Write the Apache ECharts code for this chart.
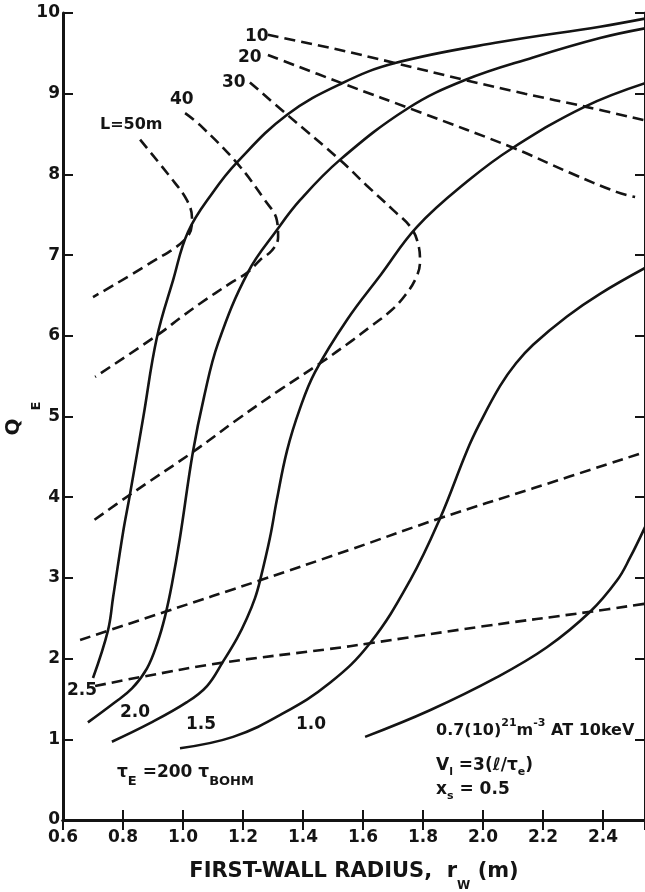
<!DOCTYPE html>
<html><head><meta charset="utf-8">
<script src="https://cdn.jsdelivr.net/npm/echarts@6/dist/echarts.min.js"></script>
<style>html,body{margin:0;padding:0;background:#fff}#c{width:645px;height:892px}</style>
</head><body><div id="c"></div>
<script>
// Tick labels
const xTickLabels = ['0.6','0.8','1.0','1.2','1.4','1.6','1.8','2.0','2.2','2.4'];
const yTickLabels = ['0','1','2','3','4','5','6','7','8','9','10'];

// Solid curves: density labels 2.5, 2.0, 1.5, 1.0, 0.7
const n25 = [[0.70,1.76],[0.75,2.35],[0.767,2.76],[0.80,3.56],[0.823,4.03],[0.868,5.0],[0.913,5.98],[0.967,6.69],[1.017,7.29],[1.10,7.78],[1.18,8.15],[1.347,8.74],[1.53,9.13],[1.707,9.38],[2.057,9.64],[2.39,9.83],[2.54,9.93]];
const n20 = [[0.683,1.21],[0.77,1.45],[0.83,1.63],[0.88,1.88],[0.915,2.2],[0.94,2.52],[0.963,2.92],[0.99,3.5],[1.033,4.56],[1.07,5.24],[1.117,5.91],[1.217,6.79],[1.313,7.31],[1.39,7.68],[1.523,8.18],[1.75,8.82],[1.94,9.17],[2.167,9.45],[2.39,9.69],[2.54,9.81]];
const n15 = [[0.763,0.97],[0.89,1.2],[1.013,1.46],[1.08,1.66],[1.133,1.96],[1.18,2.25],[1.213,2.5],[1.24,2.75],[1.257,2.97],[1.29,3.5],[1.313,3.97],[1.347,4.58],[1.39,5.1],[1.44,5.55],[1.547,6.2],[1.66,6.76],[1.78,7.35],[1.95,7.92],[2.1,8.33],[2.34,8.84],[2.54,9.13]];
const n10 = [[0.99,0.89],[1.167,1.03],[1.333,1.32],[1.49,1.7],[1.623,2.19],[1.757,2.97],[1.857,3.74],[1.947,4.58],[1.99,4.92],[2.057,5.38],[2.11,5.66],[2.167,5.89],[2.28,6.24],[2.39,6.52],[2.54,6.84]];
const n07 = [[1.607,1.03],[1.823,1.36],[2.047,1.77],[2.213,2.14],[2.357,2.58],[2.447,2.97],[2.49,3.25],[2.54,3.63]];

// Dashed curves: L = 10, 20, 30, 40, 50 m
const L10upper = [[1.283,9.73],[1.5,9.56],[1.707,9.38],[1.94,9.17],[2.14,9.0],[2.34,8.84],[2.54,8.67]];
const L10lower = [[0.707,1.66],[0.857,1.77],[1.133,1.95],[1.49,2.12],[1.623,2.19],[2.0,2.4],[2.357,2.58],[2.54,2.68]];
const L20upper = [[1.283,9.48],[1.53,9.13],[1.79,8.77],[2.1,8.33],[2.29,8.02],[2.447,7.78],[2.507,7.72]];
const L20lower = [[0.657,2.23],[0.94,2.58],[1.257,2.97],[1.557,3.35],[1.857,3.74],[2.167,4.11],[2.54,4.56]];
const L30 = [[1.223,9.14],[1.347,8.74],[1.523,8.18],[1.613,7.86],[1.70,7.56],[1.76,7.34],[1.785,7.12],[1.79,6.92],[1.777,6.72],[1.74,6.5],[1.69,6.3],[1.62,6.1],[1.567,5.95],[1.457,5.66],[1.323,5.33],[1.18,4.96],[1.033,4.56],[0.823,4.03],[0.69,3.68]];
const L40 = [[1.007,8.76],[1.057,8.61],[1.18,8.14],[1.273,7.68],[1.313,7.43],[1.317,7.22],[1.297,7.06],[1.257,6.94],[1.217,6.79],[1.157,6.65],[1.057,6.4],[0.99,6.22],[0.923,6.03],[0.707,5.49]];
const L50 = [[0.857,8.43],[0.957,7.97],[1.013,7.68],[1.03,7.46],[1.013,7.22],[0.89,6.9],[0.7,6.48]];

const solidCurves = [n25, n20, n15, n10, n07];
const dashedCurves = [L10upper, L10lower, L20upper, L20lower, L30, L40, L50];

const INK = '#141414';
const FONT = 'DejaVu Sans';

const series = [];
solidCurves.forEach(d => series.push({
  type: 'line', data: d, showSymbol: false, smooth: 0.4, silent: true,
  lineStyle: { color: INK, width: 2.6 }
}));
dashedCurves.forEach(d => series.push({
  type: 'line', data: d, showSymbol: false, smooth: 0.4, silent: true,
  lineStyle: { color: INK, width: 2.6, type: [11, 6] }
}));

const isTick = v => Math.abs(v * 5 - Math.round(v * 5)) < 1e-6;
const xLab = v => { if (!isTick(v)) return ''; const i = Math.round((v - 0.6) / 0.2); return xTickLabels[i] || ''; };
const yLab = v => { const i = Math.round(v); return Math.abs(v - i) < 1e-6 ? (yTickLabels[i] || '') : ''; };

const axisLineStyle = { lineStyle: { color: INK, width: 3 } };
const tickStyle = { inside: true, length: 10, lineStyle: { color: INK, width: 2 } };

function rich(mainSize, subSize, drop) {
  return {
    m: { fontFamily: FONT, fontWeight: 'bold', fontSize: mainSize, color: INK, lineHeight: mainSize + 1 },
    s: { fontFamily: FONT, fontWeight: 'bold', fontSize: subSize, color: INK, lineHeight: subSize, padding: [drop * 2, 0, 0, 0] },
    u: { fontFamily: FONT, fontWeight: 'bold', fontSize: subSize, color: INK, lineHeight: subSize, padding: [0, 0, drop * 2, 0] }
  };
}
function txt(x, y, text, size, rot) {
  return { type: 'text', x: x, y: y, rotation: rot || 0, silent: true,
    style: { text: text, fill: INK, font: 'bold ' + (size || 17) + 'px "' + FONT + '"', align: rot ? 'center' : 'left', verticalAlign: 'middle' } };
}
function rtxt(x, y, text, r) {
  return { type: 'text', x: x, y: y, silent: true,
    style: { text: text, fill: INK, align: 'left', verticalAlign: 'middle', rich: r } };
}

const option = {
  animation: false,
  backgroundColor: '#fff',
  grid: { left: 63, right: 0, top: 13, bottom: 72, containLabel: false, outerBoundsMode: 'none' },
  xAxis: [
    { type: 'value', min: 0.6, max: 2.54, interval: 0.2, position: 'bottom',
      axisLine: axisLineStyle, axisTick: tickStyle, splitLine: { show: false },
      axisLabel: { formatter: xLab, showMaxLabel: false, margin: 9, fontFamily: FONT, fontWeight: 'bold', fontSize: 17, color: INK },
      name: 'FIRST-WALL RADIUS,  r{s|W} (m)', nameLocation: 'middle', nameGap: 41, nameMoveOverlap: false,
      nameTextStyle: { fontFamily: FONT, fontWeight: 'bold', fontSize: 21, color: INK, lineHeight: 22,
        rich: { s: { fontFamily: FONT, fontWeight: 'bold', fontSize: 12, color: INK, lineHeight: 12, padding: [28, 0, 0, 0] } } } },
    { type: 'value', min: 0.6, max: 2.54, interval: 0.2, position: 'top',
      axisLine: axisLineStyle, axisTick: tickStyle, splitLine: { show: false }, axisLabel: { show: false } }
  ],
  yAxis: [
    { type: 'value', min: 0, max: 10, interval: 1, position: 'left',
      axisLine: axisLineStyle, axisTick: tickStyle, splitLine: { show: false },
      axisLabel: { formatter: yLab, margin: 3, fontFamily: FONT, fontWeight: 'bold', fontSize: 17, color: INK } },
    { type: 'value', min: 0, max: 10, interval: 1, position: 'right',
      axisLine: axisLineStyle, axisTick: tickStyle, splitLine: { show: false }, axisLabel: { show: false } }
  ],
  graphic: [
    // y-axis title Q_E (rotated)
    txt(14, 427, 'Q', 20, Math.PI / 2),
    txt(37, 406, 'E', 13, Math.PI / 2),
    // curve labels
    txt(100, 125, 'L=50m', 16),
    txt(170, 100, '40'),
    txt(222, 83, '30'),
    txt(238, 58, '20'),
    txt(245, 37, '10'),
    txt(67, 691, '2.5'),
    txt(120, 713, '2.0'),
    txt(186, 725, '1.5'),
    txt(296, 725, '1.0'),
    rtxt(117, 773, '{m|τ}{s|E}{m| =200 τ}{s|BOHM}', rich(17, 13, 9)),
    rtxt(436, 731, '{m|0.7(10)}{u|21}{m|m}{u|-3}{m| AT 10keV}', rich(16, 11, 8)),
    rtxt(436, 766, '{m|V}{s|l}{m| =3(ℓ/τ}{s|e}{m|)}', rich(17, 11, 6)),
    rtxt(436, 790, '{m|x}{s|s}{m| = 0.5}', rich(17, 11, 6))
  ],
  series: series
};

const chart = echarts.init(document.getElementById('c'), null, { renderer: 'canvas' });
chart.setOption(option);
</script>
</body></html>
